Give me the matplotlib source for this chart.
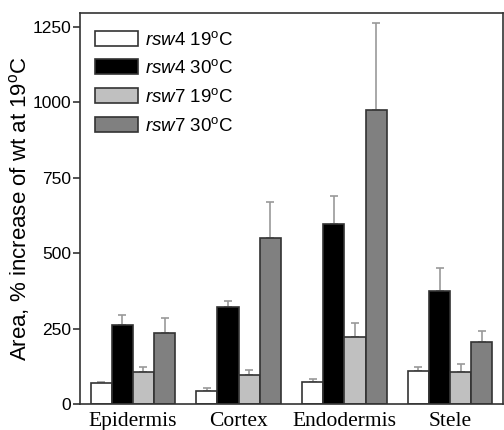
import numpy as np
import matplotlib
matplotlib.use('Agg')
import matplotlib.pyplot as plt

tissues = ['Epidermis', 'Cortex', 'Endodermis', 'Stele']
labels = [r'$\it{rsw4}$ 19$^{\rm o}$C', r'$\it{rsw4}$ 30$^{\rm o}$C',
          r'$\it{rsw7}$ 19$^{\rm o}$C', r'$\it{rsw7}$ 30$^{\rm o}$C']

rsw4_19 = [68, 44, 74, 110]
rsw4_19_err = [6, 8, 9, 12]
rsw4_30 = [262, 323, 595, 375]
rsw4_30_err = [33, 20, 95, 77]
rsw7_19 = [105, 96, 223, 107]
rsw7_19_err = [19, 17, 47, 26]
rsw7_30 = [234, 549, 975, 205]
rsw7_30_err = [52, 122, 289, 38]

colors = ['white', 'black', '#c0c0c0', '#808080']

plt.rcParams['font.family'] = 'Liberation Sans'
plt.rcParams['mathtext.fontset'] = 'custom'
plt.rcParams['mathtext.rm'] = 'Liberation Sans'
plt.rcParams['mathtext.it'] = 'Liberation Sans:italic'

fig = plt.figure(figsize=(5.04, 4.30), dpi=100)
ax = fig.add_axes([0.1587, 0.0605, 0.8393, 0.9093])

x = np.arange(len(tissues))
w = 0.2
series = [(rsw4_19, rsw4_19_err), (rsw4_30, rsw4_30_err),
          (rsw7_19, rsw7_19_err), (rsw7_30, rsw7_30_err)]
for i, (vals, errs) in enumerate(series):
    pos = x + (i - 1.5) * w
    ax.bar(pos, vals, w, color=colors[i], edgecolor='#333333', lw=1.2,
           label=labels[i], zorder=2)
    ax.errorbar(pos, vals, yerr=[np.zeros(len(errs)), errs], fmt='none',
                ecolor='#999999', elinewidth=1.2, capsize=3, capthick=1.2,
                zorder=1)

ax.set_xlim(-0.5, 3.5)
ax.set_ylim(0, 1296)
ax.set_yticks([0, 250, 500, 750, 1000, 1250])
ax.set_yticklabels(['0', '250', '500', '750', '1000', '1250'], fontsize=12.5)
ax.set_xticks(x)
ax.set_xticklabels(tissues, fontsize=15.5, family='Liberation Serif')
ax.tick_params(axis='x', length=0, pad=6)
ax.tick_params(axis='y', direction='out', length=5, width=1.2,
               color='#333333', pad=1.2)
ax.set_ylabel(r'Area, % increase of wt at 19$^{\rm o}$C', fontsize=16)
ax.yaxis.set_label_coords(-0.114, 0.5)
for s in ax.spines.values():
    s.set_color('#333333')
    s.set_linewidth(1.2)

ax.legend(loc='upper left', bbox_to_anchor=(0.035, 0.955), frameon=False,
          fontsize=13.5, handlelength=2.3, handleheight=0.85,
          labelspacing=0.57, handletextpad=0.37, borderpad=0,
          borderaxespad=0)

plt.savefig('out.png', dpi=100)
